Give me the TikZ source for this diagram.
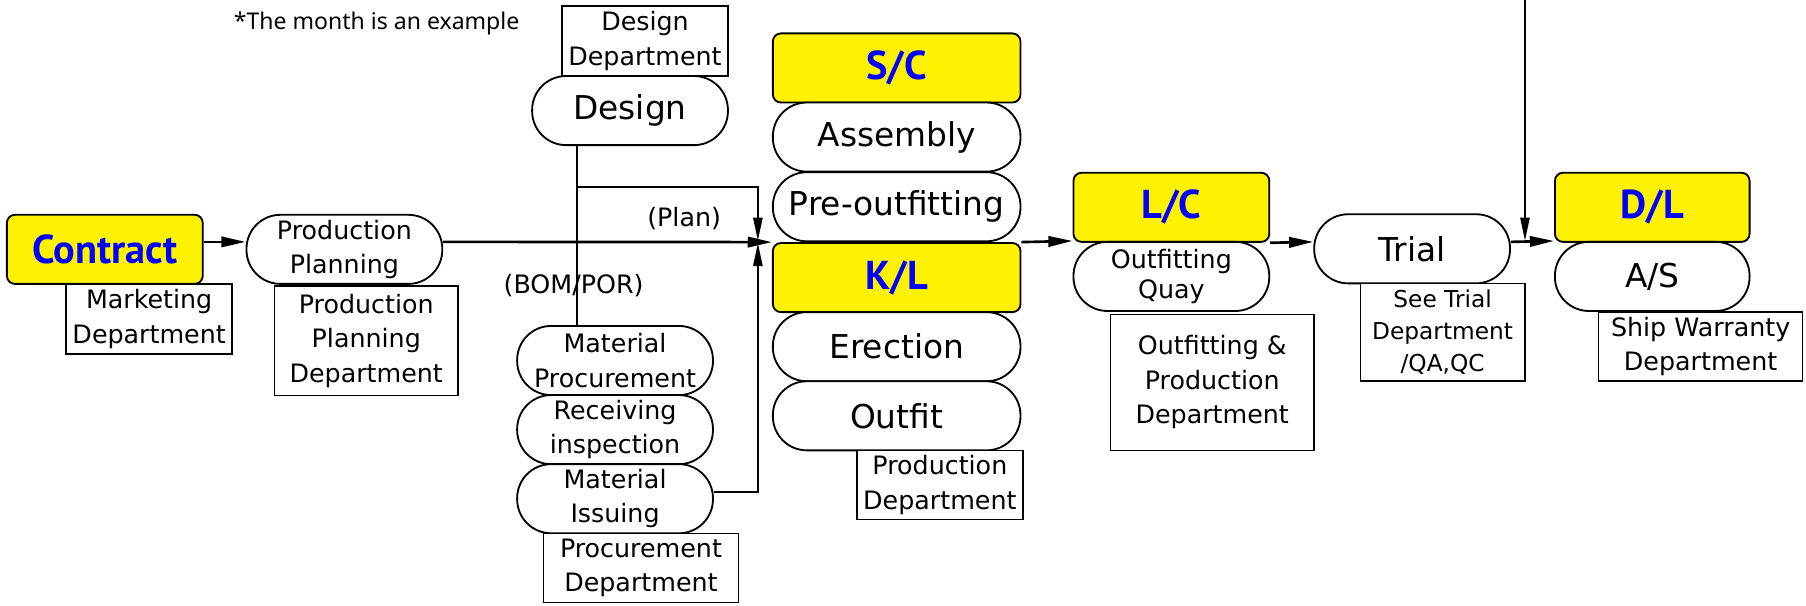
\documentclass[tikz,border=0pt]{standalone}
\usepackage{fontspec}
\setmainfont{DejaVu Sans}
\newfontfamily\ptfam{PT Sans}
\newfontfamily\notefam{Noto Sans}
\usetikzlibrary{arrows.meta}
\newcommand{\fReg}{\fontsize{22}{30}\selectfont}
\newcommand{\fRegS}{\fontsize{20.2}{27.5}\selectfont}
\newcommand{\fBig}{\fontsize{28.5}{34}\selectfont}
\newcommand{\fBold}{\ptfam\fontsize{35}{40}\selectfont\bfseries}
\newcommand{\fNote}{\notefam\fontsize{20}{24}\selectfont}
\begin{document}
\begin{tikzpicture}[x=1pt,y=-1pt,
  stad/.style={draw, line width=1.6pt, fill=white, rounded corners=29.5pt, minimum height=60pt, inner sep=0pt, align=center, font=\fReg},
  ybox/.style={draw, line width=1.6pt, fill=yellow, rounded corners=7pt, minimum height=60pt, inner sep=0pt, font=\fBold, text=blue},
  dept/.style={draw, line width=1.3pt, fill=white, inner sep=0pt, align=center, font=\fReg},
  lab/.style={inner sep=0pt, font=\fReg},
  arr/.style={line width=2.3pt, -{Triangle[length=21pt,width=9pt]}},
  tarr/.style={line width=1.7pt, -{Triangle[length=20pt,width=8pt]}},
  tline/.style={line width=1.7pt}]
\useasboundingbox (0,0) rectangle (1568,526);
\coordinate (mainy) at (0,210);
\coordinate (top) at (1324,0);
\coordinate (dx) at (501,0);
\coordinate (bx) at (658,162);

\node[inner sep=0pt, font=\fNote] (note) at (327,20) {*The month is an example};

% left part
\node[ybox, minimum width=170pt] (contract) at (91,216.5) {Contract};
\node[dept, minimum width=144pt, minimum height=61pt] (mkt) at (129.5,277) {Marketing\\Department};
\node[stad, minimum width=170pt] (pp) at (299,216.5) {Production\\Planning};
\node[dept, minimum width=159pt, minimum height=95pt] (ppd) at (318,296) {Production\\Planning\\Department};

% design / procurement
\node[lab] (bom) at (498,248) {(BOM/POR)};
\node[lab] (plan) at (594,190) {(Plan)};
\node[dept, minimum width=144pt, minimum height=61pt] (dd) at (560,35.5) {Design\\Department};
\node[stad, minimum width=170pt, font=\fBig] (design) at (547,96) {Design};
\node[stad, minimum width=170pt] (mp) at (534,313) {Material\\Procurement};
\node[stad, minimum width=170pt] (ri) at (534,373) {Receiving\\inspection};
\node[stad, minimum width=170pt] (mi) at (534,433) {Material\\Issuing};
\node[dept, minimum width=169pt, minimum height=60pt] (prd) at (556.5,493) {Procurement\\Department};

% column
\node[ybox, minimum width=215pt] (sc) at (778.5,59) {S/C};
\node[stad, minimum width=215pt, font=\fBig] (asm) at (778.5,119) {Assembly};
\node[stad, minimum width=215pt, font=\fBig] (pre) at (778.5,179.5) {Pre-outfitting};
\node[ybox, minimum width=215pt] (kl) at (778.5,241) {K/L};
\node[stad, minimum width=215pt, font=\fBig] (ere) at (778.5,301) {Erection};
\node[stad, minimum width=215pt, font=\fBig] (out) at (778.5,361) {Outfit};
\node[dept, minimum width=144pt, minimum height=60pt] (pdd) at (816,421) {Production\\Department};

% right part
\node[ybox, minimum width=170pt] (lc) at (1017,180) {L/C};
\node[stad, minimum width=170pt, font=\fontsize{22}{26}\selectfont] (oq) at (1017,240) {Outfitting\\Quay};
\node[dept, minimum width=177pt, minimum height=118pt] (opd) at (1052.5,332) {Outfitting \&\\Production\\Department};
\node[stad, minimum width=170pt, font=\fBig] (trial) at (1226,216) {Trial};
\node[dept, minimum width=143pt, minimum height=85pt, font=\fRegS] (std) at (1252.5,288.5) {See Trial\\Department\\/QA,QC};
\node[ybox, minimum width=169pt] (dl) at (1434.5,180) {D/L};
\node[stad, minimum width=169pt, font=\fBig] (as) at (1434.5,240) {A/S};
\node[dept, minimum width=177pt, minimum height=60pt] (swd) at (1476.5,301) {Ship Warranty\\Department};

% connectors
\draw[arr] (contract.east |- mainy) -- (pp.west |- mainy);
\draw[arr] (pp.east |- mainy) -- (kl.north west);
\draw[arr] (kl.north east) -- (oq.north west);
\draw[arr] (lc.south east) -- (trial.west |- mainy);
\draw[arr] (trial.east |- mainy) -- (as.north west);
\draw[tarr] (top) -- ([yshift=1pt]top |- mainy);
\draw[tline] (design.south -| dx) -- (mp.north -| dx);
\draw[tarr] (dx |- bx) -- (bx) -- ([yshift=1pt]bx |- mainy);
\draw[tarr] ([yshift=6pt]mi.east) -- ([yshift=6pt]mi.east -| bx) -- ([yshift=-1pt]bx |- mainy);
\end{tikzpicture}
\end{document}
